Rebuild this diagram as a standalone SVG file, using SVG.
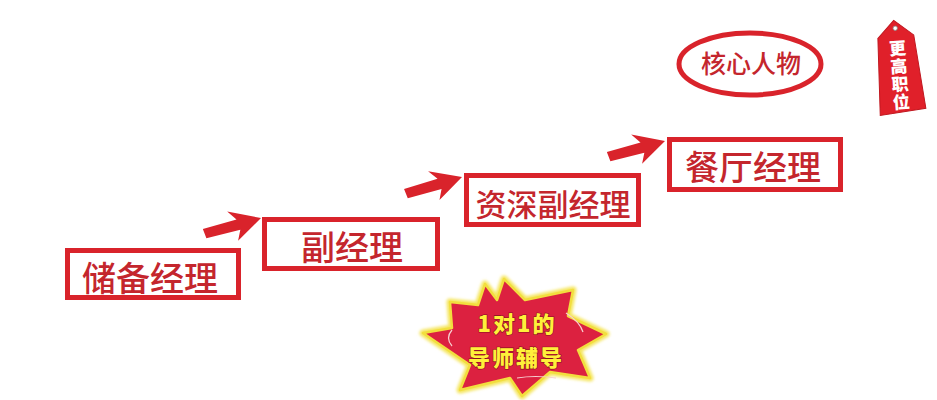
<svg xmlns="http://www.w3.org/2000/svg" width="937" height="400" viewBox="0 0 937 400">
  <style>
    .box { fill: #ffffff; stroke: #d9232b; stroke-width: 5; }
    .lbl { font-family: "Noto Sans CJK SC", "Noto Sans", sans-serif; font-weight: 500; fill: #c4262d; text-anchor: middle; dominant-baseline: central; }
    .arrow { fill: #d9232b; }
    .burst-t { font-family: "Noto Sans CJK SC", "Noto Sans", sans-serif; font-weight: 900; font-size: 22px; letter-spacing: 2px; fill: #fff03a; stroke: #8a1020; stroke-width: 1.2; paint-order: stroke; text-anchor: middle; dominant-baseline: central; }
    .tag-t { font-family: "Noto Sans CJK SC", sans-serif; font-weight: 900; font-size: 17px; fill: #ffffff; text-anchor: middle; dominant-baseline: central; }
  </style>
  <defs>
    <path id="arr" d="M0,0 L-31,-15 L-24,-5 L-59,-4.5 L-58,5.5 L-23,6 L-28,16 Z"/>
    <filter id="glow" x="-10%" y="-10%" width="120%" height="120%">
      <feGaussianBlur stdDeviation="1.5"/>
    </filter>
  </defs>
  <rect width="937" height="400" fill="#ffffff"/>

  <g id="connectors" class="arrow">
    <use href="#arr" transform="translate(261,218) rotate(-15)"/>
    <use href="#arr" transform="translate(462,177) rotate(-16)"/>
    <use href="#arr" transform="translate(665,141) rotate(-15)"/>
  </g>

  <g id="n1">
    <rect class="box" x="67.5" y="250.5" width="171" height="47"/>
    <text class="lbl" x="150" y="276" font-size="34">储备经理</text>
  </g>
  <g id="n2">
    <rect class="box" x="264.5" y="219.5" width="173" height="49"/>
    <text class="lbl" x="352" y="245" font-size="34">副经理</text>
  </g>
  <g id="n3">
    <rect class="box" x="466.5" y="175.5" width="172" height="49"/>
    <text class="lbl" x="553" y="202" font-size="31">资深副经理</text>
  </g>
  <g id="n4">
    <rect class="box" x="669.5" y="139.5" width="171" height="50"/>
    <text class="lbl" x="753" y="165" font-size="34">餐厅经理</text>
  </g>

  <g id="core">
    <ellipse cx="750" cy="64" rx="71" ry="31" fill="none" stroke="#d9232b" stroke-width="5"/>
    <text class="lbl" x="751" y="62" font-size="25">核心人物</text>
  </g>

  <g id="tag" transform="rotate(-4 900 68)">
    <path d="M897,20 L916,36 L923,110 L877,114 L880,37 Z" fill="#e0202a" stroke="#c01820" stroke-width="1"/>
    <circle cx="898" cy="28" r="2.2" fill="#ffffff" stroke="#888" stroke-width="0.8"/>
    <text class="tag-t" x="899" y="47">更</text>
    <text class="tag-t" x="899" y="65">高</text>
    <text class="tag-t" x="899" y="83">职</text>
    <text class="tag-t" x="899" y="101">位</text>
  </g>

  <g id="burst">
    <polygon points="504,279 525,300 573,290 568,316 606,334 578,350 590,378 550,372 522,396 510,378 460,390 470,365 423,333 452,328 450,302 478,305 485,284 497,300" fill="#f5e660" stroke="#f5e660" stroke-width="7" stroke-linejoin="round" filter="url(#glow)"/>
    <polygon points="504,279 525,300 573,290 568,316 606,334 578,350 590,378 550,372 522,396 510,378 460,390 470,365 423,333 452,328 450,302 478,305 485,284 497,300" fill="#dc2140" stroke="#f2de3e" stroke-width="2.5" stroke-linejoin="round"/>
    <path d="M452,330 Q445,338 452,346" fill="none" stroke="#f7d0d0" stroke-width="1.2"/>
    <path d="M566,313 Q580,322 583,332" fill="none" stroke="#f7d0d0" stroke-width="1.2"/>
    <path d="M517,378 Q535,375 556,378" fill="none" stroke="#f7d0d0" stroke-width="1.2"/>
    <text class="burst-t" x="517" y="322">1对1的</text>
    <text class="burst-t" x="516" y="356">导师辅导</text>
  </g>
</svg>
